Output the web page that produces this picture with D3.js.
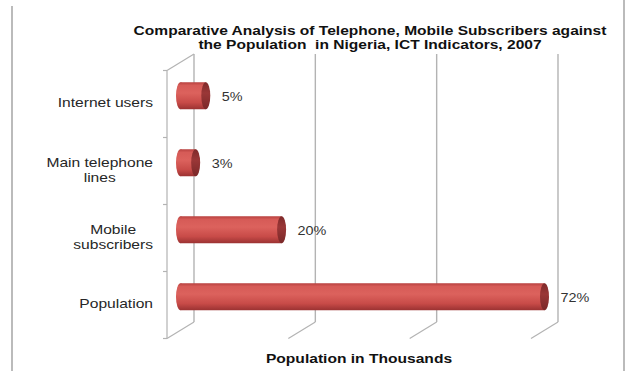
<!DOCTYPE html>
<html>
<head>
<meta charset="utf-8">
<script src="https://cdn.jsdelivr.net/npm/d3@7/dist/d3.min.js"></script>
<style>
  html, body { margin: 0; padding: 0; background: #fff; }
  svg { display: block; font-family: "Liberation Sans", Arial, sans-serif; }
</style>
</head>
<body>
<svg id="chart" width="626" height="371"></svg>
<script>
// ---- data ----
const categories = ["Internet users", "Main telephone lines", "Mobile subscribers", "Population"];
const categoryLines = [["Internet users"], ["Main telephone", "lines"], ["Mobile", "subscribers"], ["Population"]];
const values = [5, 3, 20, 72];
const valueLabels = ["5%", "3%", "20%", "72%"];
const gridTicks = [0, 24, 48, 72];
const titleLines = ["Comparative Analysis of Telephone, Mobile Subscribers against", "the Population  in Nigeria, ICT Indicators, 2007"];
const axisTitle = "Population in Thousands";

// ---- layout ----
const svg = d3.select("#chart");
const W = 626, H = 371;
const stretch = 1.2;          // reference text is horizontally stretched
const depth = { dx: -27, dy: 16.5 };  // back wall -> front edge offset
const back = { x0: 194, x1: 558, y0: 54, y1: 322 };

const x = d3.scaleLinear().domain([0, 72]).range([back.x0, back.x1]);
const y = d3.scaleBand().domain(categories).range([back.y0, back.y1]);
const gridColor = "#b3b3b3";

// frame lines
svg.append("line").attr("x1", 12).attr("x2", 12).attr("y1", 6).attr("y2", H)
  .attr("stroke", "#aaa").attr("stroke-width", 1.6);
svg.append("line").attr("x1", 624).attr("x2", 624).attr("y1", 0).attr("y2", H)
  .attr("stroke", "#aaa").attr("stroke-width", 1.6);

// back-wall gridlines and floor diagonals
const grid = svg.append("g");
gridTicks.forEach(t => {
  grid.append("line").attr("x1", x(t)).attr("x2", x(t)).attr("y1", back.y0).attr("y2", back.y1)
    .attr("stroke", gridColor).attr("stroke-width", 1.4);
  grid.append("line").attr("x1", x(t)).attr("y1", back.y1)
    .attr("x2", x(t) + depth.dx).attr("y2", back.y1 + depth.dy)
    .attr("stroke", gridColor).attr("stroke-width", 1.2);
});
// side wall: front vertical axis + top diagonal
const fx = x(0) + depth.dx;
grid.append("line").attr("x1", fx).attr("x2", fx).attr("y1", back.y0 + depth.dy).attr("y2", back.y1 + depth.dy)
  .attr("stroke", gridColor).attr("stroke-width", 1.2);
grid.append("line").attr("x1", fx).attr("y1", back.y0 + depth.dy).attr("x2", x(0)).attr("y2", back.y0)
  .attr("stroke", gridColor).attr("stroke-width", 1.2);
// ticks on front axis at band boundaries
const bounds = categories.map(c => y(c)).concat([back.y1]);
bounds.forEach(b => {
  grid.append("line").attr("x1", fx - 4).attr("x2", fx).attr("y1", b + depth.dy).attr("y2", b + depth.dy)
    .attr("stroke", gridColor).attr("stroke-width", 1.2);
});

// gradients
const defs = svg.append("defs");
const bodyG = defs.append("linearGradient").attr("id", "body").attr("x1", 0).attr("y1", 0).attr("x2", 0).attr("y2", 1);
[[0, "#b8413f"], [0.12, "#d65b57"], [0.4, "#dc625d"], [0.75, "#c84b48"], [1, "#9b3232"]]
  .forEach(s => bodyG.append("stop").attr("offset", s[0]).attr("stop-color", s[1]));
const capG = defs.append("linearGradient").attr("id", "cap").attr("x1", 0).attr("y1", 0).attr("x2", 0).attr("y2", 1);
[[0, "#7e2a2a"], [0.4, "#9a3737"], [1, "#7a2828"]]
  .forEach(s => capG.append("stop").attr("offset", s[0]).attr("stop-color", s[1]));

// bars (cylinders) at mid depth
const mid = { dx: depth.dx / 2, dy: depth.dy / 2 };
const barH = 27, rx = 4.5;
const bars = svg.append("g");
categories.forEach((c, i) => {
  const cy = y(c) + y.bandwidth() / 2 + mid.dy;
  const x0 = x(0) + mid.dx, x1 = x(values[i]) + mid.dx;
  bars.append("ellipse").attr("cx", x0).attr("cy", cy).attr("rx", rx).attr("ry", barH / 2).attr("fill", "url(#body)");
  bars.append("rect").attr("x", x0).attr("y", cy - barH / 2).attr("width", x1 - x0).attr("height", barH).attr("fill", "url(#body)");
  bars.append("ellipse").attr("cx", x1).attr("cy", cy).attr("rx", rx).attr("ry", barH / 2).attr("fill", "url(#cap)");
  // value label
  svg.append("text").attr("x", x1 + 16).attr("y", cy + 2)
    .attr("dominant-baseline", "middle").attr("font-size", 12).attr("fill", "#333")
    .attr("transform", `translate(${(x1 + 16) * (1 - stretch)},0) scale(${stretch},1)`)
    .text(valueLabels[i]);
});

// category labels (right edge at 153, centered on front band)
categories.forEach((c, i) => {
  const cy = y(c) + y.bandwidth() / 2 + depth.dy;
  const lines = categoryLines[i];
  const g = svg.append("g").attr("transform", `translate(153,${cy}) scale(${stretch},1)`);
  const texts = lines.map((l, j) => g.append("text")
    .attr("y", (j - (lines.length - 1) / 2) * 15)
    .attr("dominant-baseline", "middle").attr("text-anchor", "middle")
    .attr("font-size", 13).attr("fill", "#262626").text(l));
  const maxW = d3.max(texts, t => t.node().getComputedTextLength());
  texts.forEach(t => t.attr("x", -maxW / 2));
});

// title
const tg = svg.append("g").attr("transform", `translate(370,0) scale(1.245,1)`);
titleLines.forEach((l, j) => tg.append("text").attr("x", 0).attr("y", 35 + j * 14.5)
  .attr("text-anchor", "middle").attr("font-weight", "bold").attr("font-size", 12.5).attr("fill", "#111")
  .attr("xml:space", "preserve").style("white-space", "pre").text(l));

// axis title
svg.append("g").attr("transform", `translate(359,363) scale(${stretch},1)`)
  .append("text").attr("text-anchor", "middle").attr("font-weight", "bold").attr("font-size", 13)
  .attr("fill", "#111").text(axisTitle);
</script>
</body>
</html>
